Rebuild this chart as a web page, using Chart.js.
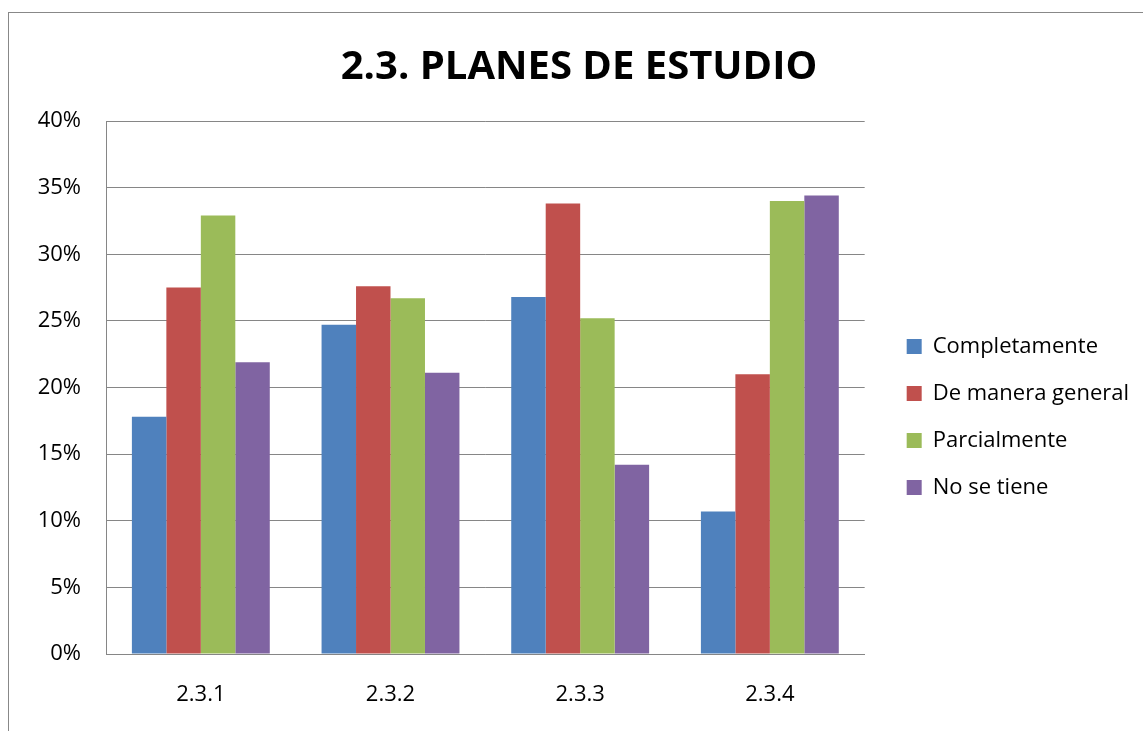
<!DOCTYPE html>
<html>
<head>
<meta charset="utf-8">
<script src="https://cdn.jsdelivr.net/npm/chart.js@4.4.1/dist/chart.umd.min.js"></script>
<style>
  html, body { margin: 0; padding: 0; background: #ffffff; overflow: hidden; }
  #frame { position: absolute; left: 8px; top: 12px; width: 1200px; height: 800px; border: 1px solid #888888; box-sizing: border-box; }
  #wrap { position: absolute; left: 0; top: 0; width: 1143px; height: 731px; }
</style>
</head>
<body>
<div id="frame"></div>
<div id="wrap"><canvas id="c"></canvas></div>
<script>
const categories = ["2.3.1", "2.3.2", "2.3.3", "2.3.4"];
const seriesNames = ["Completamente", "De manera general", "Parcialmente", "No se tiene"];
const completamente = [17.8, 24.7, 26.8, 10.7];
const deManeraGeneral = [27.5, 27.6, 33.8, 21.0];
const parcialmente = [32.9, 26.7, 25.2, 34.0];
const noSeTiene = [21.9, 21.1, 14.2, 34.4];
const yTicks = [0, 5, 10, 15, 20, 25, 30, 35, 40];
const titleText = "2.3. PLANES DE ESTUDIO";

const colors = ["#4F81BD", "#C0504D", "#9BBB59", "#8064A2"];
const values = [completamente, deManeraGeneral, parcialmente, noSeTiene];

Chart.defaults.font.family = "'Open Sans', sans-serif";
Chart.defaults.color = "#000000";

new Chart(document.getElementById('c'), {
  type: 'bar',
  data: {
    labels: categories,
    datasets: seriesNames.map((n, i) => ({
      label: n,
      data: values[i],
      backgroundColor: colors[i],
      borderWidth: 0,
      categoryPercentage: 0.727,
      barPercentage: 1.0
    }))
  },
  options: {
    responsive: true,
    maintainAspectRatio: false,
    animation: false,
    layout: { padding: { left: 19, right: 4, top: 0, bottom: 21 } },
    plugins: {
      title: {
        display: true,
        text: titleText,
        font: { size: 40, weight: 'bold' },
        color: '#000000',
        padding: { top: 44, bottom: 29 }
      },
      legend: {
        position: 'right',
        align: 'center',
        maxWidth: 300,
        title: {
          display: true,
          text: ' ',
          font: { size: 10 },
          padding: { top: 56, bottom: 56 }
        },
        labels: {
          boxWidth: 15,
          boxHeight: 15,
          padding: 25,
          font: { size: 22 },
          color: '#000000'
        }
      },
      tooltip: { enabled: false }
    },
    scales: {
      x: {
        grid: { display: false, drawTicks: false },
        border: { display: true, color: '#868686', width: 1 },
        ticks: { font: { size: 22 }, padding: 28, color: '#000000' },
        afterFit: s => { s.height = 56; }
      },
      y: {
        min: 0,
        max: 40,
        afterBuildTicks: s => { s.ticks = yTicks.map(v => ({ value: v })); },
        grid: { color: '#868686', lineWidth: 1, drawTicks: false },
        border: { display: true, color: '#868686', width: 1 },
        ticks: { font: { size: 22 }, padding: 25, color: '#000000', callback: v => v + '%' },
        afterFit: s => { s.width = 87; }
      },
      spacer: {
        position: 'right',
        display: true,
        grid: { display: false, drawTicks: false },
        border: { display: false },
        ticks: { display: false },
        afterFit: s => { s.width = 17; }
      }
    }
  }
});
</script>
</body>
</html>
